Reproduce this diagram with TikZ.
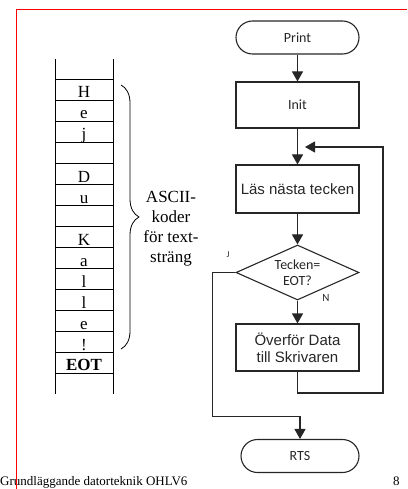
\documentclass[tikz,border=0pt]{standalone}
\usepackage{fontspec}
\setmainfont{Liberation Serif}
\newfontfamily\carlfont{Carlito}
\newfontfamily\arialfont{Liberation Sans}
\usetikzlibrary{arrows.meta,shapes.geometric,decorations.pathreplacing}
\definecolor{ink}{HTML}{262626}
\begin{document}
\begin{tikzpicture}[x=1pt,y=-1pt,
  flow/.style={draw=ink, line width=1.1pt},
  arr/.style={flow, -{Triangle[width=11pt,length=10pt]}},
  box/.style={draw=ink, line width=1.1pt, rectangle, minimum width=123pt,
    inner sep=0pt, text=ink, align=center},
  term/.style={box, rounded corners=16.5pt, minimum height=33pt},
  dec/.style={box, diamond, aspect=2.24, minimum width=123pt, minimum height=55pt},
  cfont/.style={font=\carlfont\fontsize{14}{16}\selectfont},
  afont/.style={font=\arialfont\fontsize{15}{17}\selectfont},
  letter/.style={anchor=base, inner sep=0pt, font=\fontsize{17}{20}\selectfont},
  tag/.style={inner sep=0pt, text=ink, font=\carlfont\fontsize{9}{10}\selectfont}
]
\useasboundingbox (0,0) rectangle (407,489);

% memory stack holding the character codes
\draw[line width=0.9pt] (55,59) -- (55,394) (113,59) -- (113,394);
\foreach \i in {0,...,14}
  \draw[line width=0.9pt] (55,{79+21*\i}) -- (113,{79+21*\i});
\foreach \t [count=\i] in {H,e,j,,D,u,,K,a,l,l,e,!}
  \node[letter] (c\i) at (84,{79+21*\i-2}) {\t};
\node[letter, font=\bfseries\fontsize{17}{20}\selectfont] (eot) at (84,370) {EOT};

% brace and its caption
\coordinate (bt) at (121,85);
\coordinate (bb) at (121,349);
\draw[line width=0.8pt, decorate, decoration={brace, amplitude=18pt}] (bt) -- (bb);
\node[align=center, inner sep=0pt, font=\fontsize{17}{20}\selectfont] (asc) at (171,229)
  {ASCII-\\koder\\för text-\\sträng};

% flowchart
\node[term, cfont] (print) at (297.5,37.5) {Print};
\node[box, cfont, minimum height=46pt] (init) at (297.5,105) {Init};
\node[box, afont, minimum height=48pt] (las) at (297.5,189) {Läs nästa tecken};
\node[dec, cfont] (dia) at (297.5,272.5) {Tecken=\\EOT?};
\node[box, afont, minimum height=47pt] (over) at (297.5,347.5) {Överför Data\\till Skrivaren};
\node[term, cfont, minimum width=118pt] (rts) at (300,456) {RTS};

\node[tag] (jlab) at (228,255) {J};
\node[tag, font=\carlfont\fontsize{11}{12}\selectfont] (nlab) at (326,298) {N};

\coordinate (loopin) at (305,147);
\coordinate (loopc) at (383,393);
\coordinate (jc) at (212.7,416.5);

\draw[arr] (print) -- (init);
\draw[arr] (init) -- (las);
\draw[arr] (las) -- (dia);
\draw[arr] (dia) -- (over);
\draw[arr] (over.south) |- (loopc) |- (loopin);
\draw[arr] (dia.west) -| (jc) -| (rts.north);

% page footer
\node[anchor=base west, inner sep=0pt, font=\fontsize{13}{15}\selectfont] (foot) at (0,485.5)
  {Grundläggande datorteknik OHLV6};
\node[anchor=base west, inner sep=0pt, font=\fontsize{13}{15}\selectfont] (page) at (393,485.5) {8};

% red frame
\draw[red, line width=0.9pt] (16,489) -- (16,9) -- (407,9);
\end{tikzpicture}
\end{document}
